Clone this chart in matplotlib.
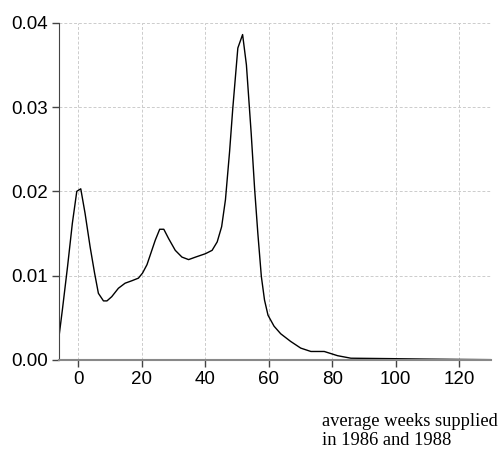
import matplotlib
matplotlib.use('Agg')
import matplotlib.pyplot as plt

# density curve (weeks, density)
weeks = [-6, -4.95, -3.3, -1.8, -0.4, 0.85, 2.2, 3.8, 5.2, 6.4, 8.0, 9.1,
         10.6, 12.7, 14.8, 17.0, 19.0, 20.3, 21.7, 24.3, 25.7, 27.0, 28.5,
         30.6, 32.7, 34.8, 37.0, 40.1, 42.2, 43.8, 45.2, 46.4, 47.7, 48.7,
         50.3, 51.8, 53.0, 54.5, 55.6, 56.6, 57.7, 58.7, 59.8, 61.7, 63.8,
         66.9, 70.1, 73.3, 77.5, 81.7, 85.9, 98.5, 109, 119.6, 130]
density = [0.00277, 0.0059, 0.0111, 0.0162, 0.0200, 0.0203, 0.0174, 0.0134,
           0.0103, 0.0079, 0.0070, 0.0070, 0.0075, 0.0085, 0.0091, 0.0094,
           0.0097, 0.0103, 0.0113, 0.0142, 0.0155, 0.0155, 0.0144, 0.0130,
           0.0122, 0.0119, 0.0122, 0.0126, 0.0130, 0.0140, 0.0158, 0.0190,
           0.0247, 0.0298, 0.0370, 0.0386, 0.0350, 0.0269, 0.0202, 0.0150,
           0.0099, 0.0071, 0.0053, 0.0040, 0.0031, 0.0022, 0.0014, 0.0010,
           0.0010, 0.0005, 0.0002, 0.00015, 0.0001, 0.00006, 0.00003]

xticks = [0, 20, 40, 60, 80, 100, 120]
yticks = [0.00, 0.01, 0.02, 0.03, 0.04]
ytick_labels = ['0.00', '0.01', '0.02', '0.03', '0.04']

fig = plt.figure(figsize=(5, 4.55), dpi=100)
ax = fig.add_axes([0.118, 0.209, 0.864, 0.741])

ax.plot(weeks, density, color='black', lw=1.0)

ax.set_xlim(-6, 130)
ax.set_ylim(0, 0.04)
ax.set_xticks(xticks)
ax.set_yticks(yticks)
ax.set_yticklabels(ytick_labels)

ax.grid(True, ls=(0, (3, 2)), color='#cccccc', lw=0.7)
ax.set_axisbelow(True)

for s in ['top', 'right']:
    ax.spines[s].set_visible(False)
ax.spines['left'].set_color('#444444')
ax.spines['bottom'].set_color('#888888')
ax.spines['bottom'].set_linewidth(1.5)

ax.tick_params(axis='both', direction='out', length=5, width=1,
               color='#444444', labelsize=13.5, pad=3)
for lab in ax.get_xticklabels() + ax.get_yticklabels():
    lab.set_family('Liberation Sans')

fig.text(0.644, 0.053, 'average weeks supplied\nin 1986 and 1988',
         family='Liberation Serif', fontsize=13.3, ha='left', va='center',
         linespacing=1.12)

fig.savefig('out.png', dpi=100)
